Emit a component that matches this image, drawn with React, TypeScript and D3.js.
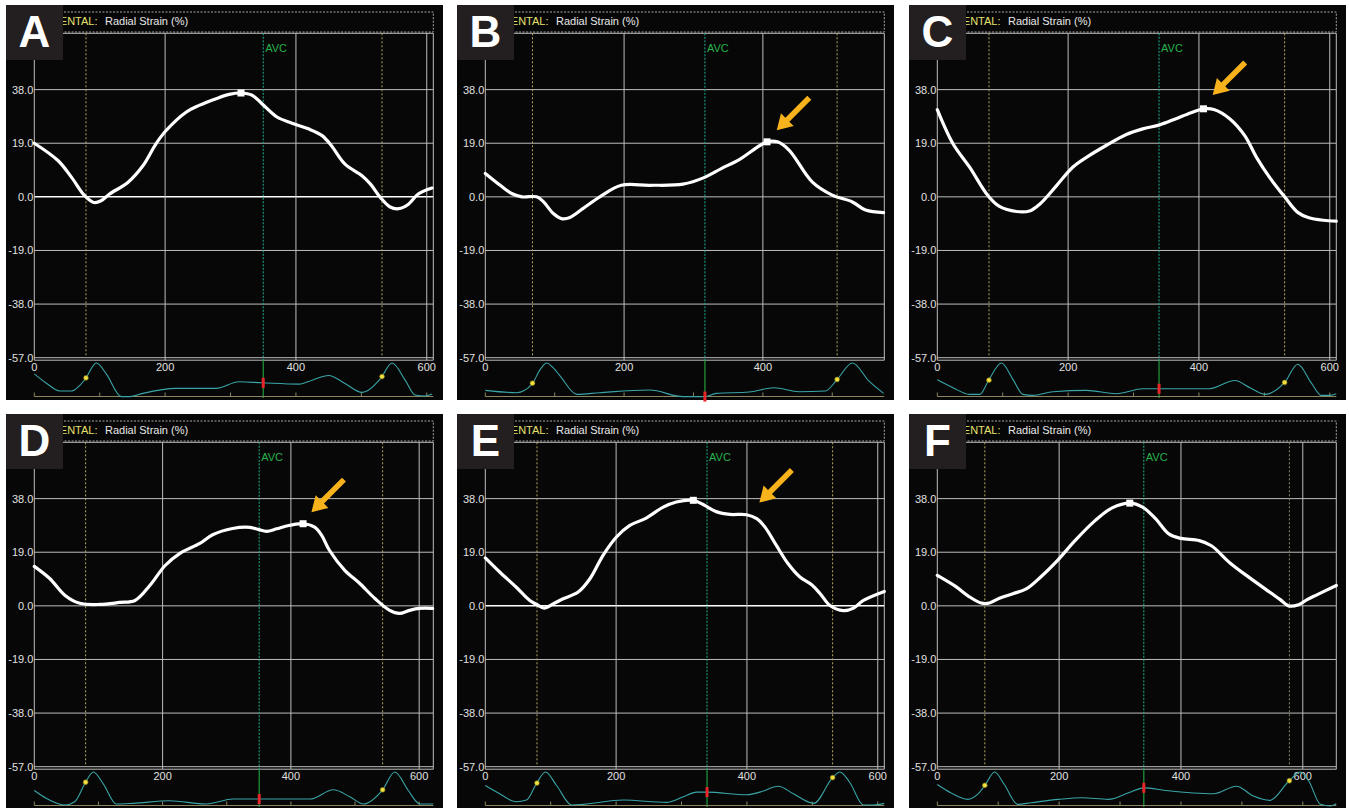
import React from 'react'
import * as d3 from 'd3'

// Strain curves, [time ms, radial strain %]
const strainA: [number, number][] = [[0,19],[36.5,12.8],[57,6.9],[77,0.4],[91,-2],[102,-1.4],[115,1],[143,5.1],[166,11],[186,18.8],[201.5,23.5],[232,30],[252,32.4],[278,34.8],[298,36.3],[316,36.8],[333,36],[348,33],[371,28.3],[394,26.1],[419,24.1],[440,21.7],[454,18.2],[475,11.6],[501,7.5],[514,4.5],[529,-0.2],[544,-3.6],[557,-4.2],[572,-2.6],[587,1],[608,3.1]]
const strainB: [number, number][] = [[0,8.3],[21.5,4.1],[38,1.2],[53,0],[74,0],[84,-1.8],[98,-5.9],[110,-7.7],[122,-7.3],[141,-4.1],[165,0],[196,4.1],[237,4.1],[285,4.5],[316,6.9],[340,10],[366,13.2],[406,19.5],[421,19.5],[438,16.5],[471,5.3],[500,0.6],[529,-1.8],[548,-4.7],[574,-5.6]]
const strainC: [number, number][] = [[0,30.9],[24,18.8],[49.4,10.5],[77.5,0.4],[95,-3.4],[121,-5.2],[141,-5],[156.5,-2.6],[182,3.9],[207,10.5],[228,14],[258,18.2],[289,22.1],[314,24.1],[340,25.5],[365,27.7],[388,29.8],[407,31.2],[424,30.9],[447,27.7],[470,21.7],[488,14],[508,6.9],[531,0],[551,-5.5],[567,-7.3],[590,-8.3],[610,-8.6]]
const strainD: [number, number][] = [[0,14],[24,9.7],[48,3.7],[71,0.9],[102,0.5],[133,1.2],[157,1.9],[180,7.2],[204,14.3],[227,18.6],[258,22.1],[278,25.2],[309,27.4],[336,27.8],[350,27],[362,26.4],[378,27.3],[393,28.3],[419,29.1],[437,27.9],[448,25],[460,19.7],[484,12.6],[507,8],[531,2.6],[554,-1.6],[569,-2.7],[585,-1.6],[600,-0.9],[621,-0.9]]
const strainE: [number, number][] = [[0,17],[22,12],[47.4,6.6],[68,1.9],[79,0.4],[90,-0.8],[103.6,0.7],[119,2.5],[142,4.9],[160,9.6],[180,17.9],[200.5,24.4],[221,28.5],[246,31.1],[272,35],[292,36.8],[318,37.4],[333,35.9],[354,33.3],[374,32.4],[399.5,32.3],[415,30.9],[427.6,27.9],[445,21.4],[463,14.9],[481,10.2],[499,7.5],[512,4.3],[527,0.1],[547.4,-1.7],[563,-0.8],[578,1.9],[610,5.1]]
const strainF: [number, number][] = [[0,10.8],[30,6.9],[52,3.3],[72,1],[85.5,1],[102,2.7],[124,4.3],[146,6],[171,10.5],[199,16.5],[226,23.1],[259,30.2],[287,34.7],[316,36.4],[337,35],[358.6,30.8],[380.7,25.4],[400,23.9],[430,23.1],[450,21.3],[480,15.3],[513,9.9],[546,4.8],[563,2.2],[576.6,0],[593,0.4],[607,2.2],[623,3.9],[655,7.2]]

// ECG traces, [time ms, relative amplitude]
const ecgA: [number, number][] = [[0,0.67],[19,0.38],[39,0.15],[57,0.15],[70,0.33],[78,0.52],[95,1],[110,0.67],[133,-0.02],[146,-0.02],[166,0.08],[217,0.23],[278,0.23],[313,0.43],[348,0.4],[405,0.36],[425,0.48],[450,0.62],[475,0.38],[501,0.11],[529,0.52],[547,1],[567,0.48],[582,0.03],[597,0],[608,0.06]]
const ecgB: [number, number][] = [[0,0.17],[45,0.1],[67,0.35],[79,0.8],[88.5,1],[98,0.85],[108,0.6],[132,0.05],[165,0.1],[237,0.18],[285,-0.02],[316,-0.02],[333,0.08],[380,0.12],[416,0.25],[452,0.13],[490,0.15],[507,0.5],[529,1],[553,0.45],[574,0.08]]
const ecgC: [number, number][] = [[0,0.49],[24,0.25],[49,0.05],[65,0.05],[77.5,0.44],[98,1],[116,0.49],[131,0.05],[146,0.02],[177,0.13],[228,0.17],[274,0.07],[314,0.22],[340,0.22],[416,0.22],[455,0.47],[478,0.25],[501,0.05],[531,0.41],[551,0.96],[572,0.39],[587,0.02],[600,0.02],[610,0.07]]
const ecgD: [number, number][] = [[0,0.44],[19,0.2],[48,0],[63,0.1],[80,0.69],[92,1],[107.5,0.64],[128,0.03],[154,0.05],[211,0.13],[268,0.03],[310,0.18],[351,0.18],[430,0.18],[466,0.46],[492,0.25],[513,0.03],[543,0.46],[562,1],[583,0.44],[601,0.03],[622,0.03]]
const ecgE: [number, number][] = [[0,0.59],[22,0.34],[47,0.1],[63,0.15],[78,0.64],[92,1],[109,0.59],[132,0],[150,0.02],[211,0.15],[277,0.08],[303,0.25],[323,0.39],[339,0.39],[399.5,0.31],[420,0.39],[448,0.57],[471,0.34],[502,0.05],[531,0.83],[542,1],[557,0.69],[578,0],[593,0],[610,0.05]]
const ecgF: [number, number][] = [[0,0.62],[22,0.37],[50,0.17],[66,0.32],[79,0.62],[94,1],[110,0.62],[132,0.02],[154,0.07],[199,0.17],[237,0.22],[281,0.17],[314,0.37],[339,0.52],[375,0.44],[453,0.34],[491,0.57],[519,0.27],[546,0.14],[577,0.72],[596,1],[610,0.72],[629,0.02],[645,-0.03],[655,0.04]]

const letters = ['A', 'B', 'C', 'D', 'E', 'F']
const xMaxes = [610, 575, 610, 622, 610, 655]
const avcTimes = [350, 316.5, 339, 350.6, 339, 339]
const eventTimes: [number, number][] = [[79, 531.6], [68, 507], [79, 531], [80, 543], [79, 531], [78, 578]]
const peakMarks: [number, number][] = [[316, 36.8], [406, 19.5], [407, 31.2], [419, 29.1], [318, 37.4], [316, 36.4]]
const arrowTips: ([number, number] | null)[] = [null, [420, 23.6], [421, 36.1], [432, 33.2], [419, 36.6], null]
const strains = [strainA, strainB, strainC, strainD, strainE, strainF]
const ecgs = [ecgA, ecgB, ecgC, ecgD, ecgE, ecgF]
const brightZero = [true, false, false, false, true, false]

const yTicks = [38, 19, 0, -19, -38, -57]
const xTicks = [0, 200, 400, 600]
// the start of "SEGMENTAL:" sits under the panel letter, only this part shows
const titleKey = 'ENTAL:'
const titleText = 'Radial Strain (%)'

const FONT = '"Liberation Sans", Arial, sans-serif'
const GRID = '#bdbdbd'

// linear lookup of the ECG level at a time
function ecgAt(ecg: [number, number][], t: number) {
  const i = d3.bisector((d: [number, number]) => d[0]).left(ecg, t)
  if (i <= 0) return ecg[0][1]
  if (i >= ecg.length) return ecg[ecg.length - 1][1]
  const a = ecg[i - 1], b = ecg[i]
  return a[1] + (b[1] - a[1]) * (t - a[0]) / (b[0] - a[0])
}

function Panel({ i, left, top }: { i: number, left: number, top: number }) {
  const x0 = left + 28.3, x1 = left + 427.3
  const yTop = top + 31, yBot = top + 352.7
  const x = d3.scaleLinear().domain([0, xMaxes[i]]).range([x0, x1])
  const y = d3.scaleLinear().domain([-57, 57]).range([yBot, yTop])
  const ey = d3.scaleLinear().domain([0, 1]).range([top + 391, top + 358])

  const strainLine = d3.line<[number, number]>()
    .x(d => x(d[0])).y(d => y(d[1]))
    .curve(d3.curveCatmullRom.alpha(0.5))
  const ecgLine = d3.line<[number, number]>()
    .x(d => x(d[0])).y(d => ey(d[1]))
    .curve(d3.curveMonotoneX)

  const ticksX = xTicks.filter(t => t <= xMaxes[i])
  const ecgTicks = d3.range(0, xMaxes[i] + 1, 100)
  const avcX = x(avcTimes[i])
  const ecg = ecgs[i]

  let arrow = null
  const tip = arrowTips[i]
  if (tip) {
    const tx = x(tip[0]), ty = y(tip[1])
    const s = Math.SQRT1_2
    const d = [s, -s], p = [s, s]
    const pt = (a: number, b: number) => [tx + d[0] * a + p[0] * b, ty + d[1] * a + p[1] * b].join(',')
    arrow = <polygon fill="#f8b21c"
      points={[pt(0, 0), pt(15, 9), pt(15, 2.8), pt(46, 2.8), pt(46, -2.8), pt(15, -2.8), pt(15, -9)].join(' ')} />
  }

  return (
    <g>
      <rect x={left} y={top} width={437} height={395} fill="#070707" />

      {/* title box */}
      <rect x={left + 2} y={top + 7} width={x1 - left - 2} height={20} fill="none"
        stroke="#a8a8a8" strokeDasharray="2,1.5" strokeWidth={1} />
      <text x={left + 91.5} y={top + 19.5} fill="#e6e070" fontSize={11} fontFamily={FONT} textAnchor="end">{titleKey}</text>
      <text x={left + 99} y={top + 19.5} fill="#e8e8e8" fontSize={11} fontFamily={FONT}>{titleText}</text>

      {/* grid */}
      {yTicks.map(t => (
        <g key={t}>
          <line x1={x0} x2={x1} y1={y(t)} y2={y(t)}
            stroke={t === 0 && brightZero[i] ? '#ffffff' : GRID} strokeWidth={t === 0 && brightZero[i] ? 1.5 : 1} />
          <text x={x0 - 1} y={y(t) + 4} fill="#e0e0e0" fontSize={11} fontFamily={FONT} textAnchor="end">{t.toFixed(1)}</text>
        </g>
      ))}
      <line x1={x0} x2={x1} y1={top + 28.3} y2={top + 28.3} stroke={GRID} />
      <line x1={x0} x2={x1} y1={yBot + 2.5} y2={yBot + 2.5} stroke={GRID} />
      {ticksX.map(t => (
        <g key={t}>
          <line x1={x(t)} x2={x(t)} y1={top + 28.3} y2={yBot + 2.5} stroke={GRID} />
          <text x={x(t)} y={top + 366} fill="#e0e0e0" fontSize={11} fontFamily={FONT} textAnchor="middle">{t}</text>
        </g>
      ))}
      <line x1={x1} x2={x1} y1={top + 28.3} y2={yBot + 2.5} stroke={GRID} />

      {/* event markers */}
      {eventTimes[i].map((t, k) => (
        <line key={k} x1={x(t)} x2={x(t)} y1={top + 28.3} y2={yBot}
          stroke={i === 5 && k === 1 ? '#8a8870' : '#b0a860'} strokeDasharray="2,2" strokeWidth={1} />
      ))}
      <line x1={avcX} x2={avcX} y1={top + 28.3} y2={yBot + 2.5} stroke="#1fb08e" strokeDasharray="2,1.5" strokeWidth={1} />
      <line x1={avcX} x2={avcX} y1={yBot + 2.5} y2={top + 393} stroke="#1f9c3c" strokeWidth={1.2} />
      <text x={avcX + 2} y={top + 47} fill="#27b24c" fontSize={11} fontFamily={FONT}>AVC</text>

      {/* strain curve */}
      <path d={strainLine(strains[i]) ?? ''} fill="none" stroke="#ffffff" strokeWidth={3.2} strokeLinejoin="round" strokeLinecap="round" />
      <rect x={x(peakMarks[i][0]) - 3.5} y={y(peakMarks[i][1]) - 3.5} width={7} height={7} fill="#ffffff" />

      {/* ECG strip */}
      <line x1={x0} x2={x1} y1={top + 391.5} y2={top + 391.5} stroke="#8c8660" />
      {ecgTicks.map(t => (
        <line key={t} x1={x(t)} x2={x(t)} y1={top + 391.5} y2={top + 387.5} stroke="#8c8660" />
      ))}
      <path d={ecgLine(ecg) ?? ''} fill="none" stroke="#3aa5a8" strokeWidth={1.1} />
      {eventTimes[i].map((t, k) => (
        <circle key={k} cx={x(t)} cy={ey(ecgAt(ecg, t))} r={2.4} fill="#f0e040" stroke="#8a7a10" strokeWidth={0.6} />
      ))}
      <rect x={avcX - 1.5} y={ey(ecgAt(ecg, avcTimes[i])) - 5} width={3} height={10} fill="#e8262a" />

      {arrow}

      {/* panel letter */}
      <rect x={left} y={top} width={57} height={55} fill="#231f20" />
      <text x={left + 28.5} y={top + 42} fill="#ffffff" fontSize={44} fontWeight="bold" fontFamily={FONT} textAnchor="middle">{letters[i]}</text>
    </g>
  )
}

export default function App() {
  const lefts = [6, 457, 909]
  const tops = [5, 414]
  return (
    <svg width={1349} height={808} style={{ position: 'absolute', left: 0, top: 0, background: '#ffffff' }}>
      {letters.map((_, i) => (
        <Panel key={i} i={i} left={lefts[i % 3]} top={tops[Math.floor(i / 3)]} />
      ))}
    </svg>
  )
}
